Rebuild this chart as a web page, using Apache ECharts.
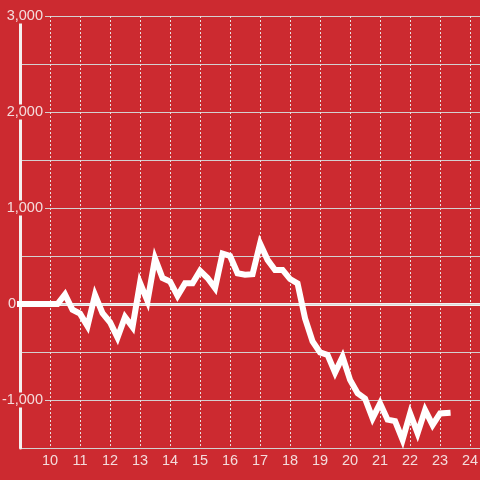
<!DOCTYPE html>
<html>
<head>
<meta charset="utf-8">
<script src="https://cdn.jsdelivr.net/npm/echarts@6/dist/echarts.min.js"></script>
<style>
html,body{margin:0;padding:0;background:#cc2a30;}
#c{width:480px;height:480px;}
</style>
</head>
<body>
<div id="c"></div>
<script>
// time in hours (15-minute steps from 9:00)
const times = [9,9.25,9.5,9.75,10,10.25,10.5,10.75,11,11.25,11.5,11.75,12,12.25,12.5,12.75,13,13.25,13.5,13.75,14,14.25,14.5,14.75,15,15.25,15.5,15.75,16,16.25,16.5,16.75,17,17.25,17.5,17.75,18,18.25,18.5,18.75,19,19.25,19.5,19.75,20,20.25,20.5,20.75,21,21.25,21.5,21.75,22,22.25,22.5,22.75,23,23.25];
const values = [0,0,0,0,0,0,100,-60,-100,-230,95,-95,-190,-350,-135,-240,220,30,475,270,235,85,215,215,345,270,165,525,500,320,305,310,630,460,355,355,260,215,-150,-390,-505,-530,-715,-550,-790,-930,-985,-1190,-1035,-1205,-1220,-1415,-1140,-1345,-1105,-1260,-1140,-1135];
const xTicks = [10,11,12,13,14,15,16,17,18,19,20,21,22,23,24];
const yLabels = [3000,2000,1000,0,-1000];

const data = times.map((t,i)=>[t, values[i]]);
const fmt = v => v.toLocaleString('en-US');
const FONT = 'Liberation Sans, Arial, sans-serif';

const chart = echarts.init(document.getElementById('c'), null, {renderer:'canvas'});
chart.setOption({
  backgroundColor:'#cc2a30',
  animation:false,
  grid:{left:20, right:0, top:16, bottom:32, containLabel:false, outerBoundsMode:'none'},
  xAxis:{
    type:'value', min:9, max:24.33, interval:1,
    axisLine:{show:true, lineStyle:{color:'#d8d8d8', width:1}},
    axisTick:{show:false},
    axisLabel:{
      color:'#f4dcdc', fontSize:14.5, fontFamily:FONT, margin:5,
      showMinLabel:false, showMaxLabel:false,
      formatter: v => xTicks.indexOf(v) >= 0 ? String(v) : ''
    },
    splitLine:{show:true, showMaxLine:false, lineStyle:{color:'#e8e0e0', width:1, type:[2,2]}}
  },
  yAxis:{
    type:'value', min:-1500, max:3000, interval:500,
    axisLine:{show:true, onZero:false, lineStyle:{color:'#f5f0f0', width:3}},
    axisTick:{show:false},
    axisLabel:{
      margin:-25,
      formatter: v => v === 0 ? '{b|0}' : (yLabels.indexOf(v) >= 0 ? '{a|' + fmt(v) + '}' : ''),
      rich:{
        a:{color:'#f4dcdc', fontSize:14.5, fontFamily:FONT, backgroundColor:'#cc2a30', padding:[0,2,0,1]},
        b:{color:'#f4dcdc', fontSize:14.5, fontFamily:FONT, padding:[0,29,0,0]}
      }
    },
    splitLine:{show:true, lineStyle:{color:'#d4d0d0', width:1}}
  },
  series:[{
    type:'line',
    data:data,
    symbol:'none',
    lineStyle:{color:'#ffffff', width:6, cap:'square', join:'miter'},
    markLine:{
      z:0,
      silent:true, symbol:'none', label:{show:false},
      lineStyle:{color:'#f5f0f0', width:3, type:'solid'},
      data:[{yAxis:0}]
    }
  }]
});
</script>
</body>
</html>
